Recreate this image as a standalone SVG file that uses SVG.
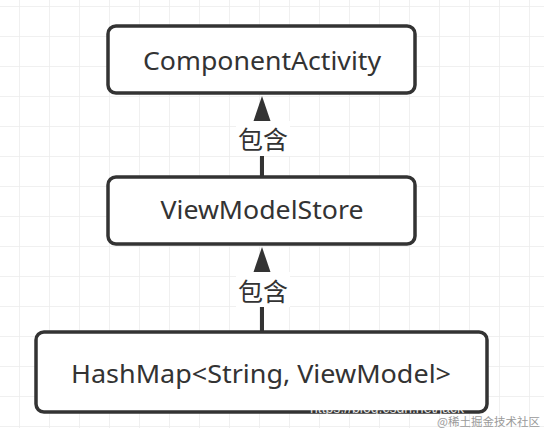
<svg xmlns="http://www.w3.org/2000/svg" width="544" height="428" viewBox="0 0 544 428">
  <defs>
    <pattern id="grid" x="19" y="6" width="30" height="30" patternUnits="userSpaceOnUse">
      <path d="M0 0H30M0 0V30" fill="none" stroke="#ececec" stroke-width="1.5"/>
    </pattern>
    <style>
      .node rect { fill: #ffffff; stroke: #333333; stroke-width: 3.5; }
      .node text { font-family: "Noto Sans", "Open Sans", sans-serif; font-size: 26px; fill: #333333; text-anchor: middle; }
      .edge line { stroke: #333333; stroke-width: 4; }
      .edge path { fill: #333333; }
      .label rect { fill: #ffffff; }
      .label text { font-family: "Noto Sans CJK SC", sans-serif; font-size: 25px; fill: #333333; text-anchor: middle; }
    </style>
  </defs>
  <rect width="544" height="428" fill="#ffffff"/>
  <rect width="544" height="428" fill="url(#grid)"/>

  <g id="connectors" class="edge">
    <line x1="262" y1="177" x2="262" y2="118"/>
    <path d="M262 96 L270.5 121 L253.5 121 Z"/>
    <g class="label">
      <rect x="236" y="121" width="54" height="35"/>
      <text x="263" y="149">包含</text>
    </g>
    <line x1="262" y1="332" x2="262" y2="270"/>
    <path d="M262 247 L270.5 272 L253.5 272 Z"/>
    <g class="label">
      <rect x="236" y="272" width="54" height="35"/>
      <text x="263" y="301">包含</text>
    </g>
  </g>

  <g id="node-componentactivity" class="node">
    <rect x="108" y="26" width="307" height="67" rx="8"/>
    <text x="262" y="70" textLength="238" lengthAdjust="spacingAndGlyphs">ComponentActivity</text>
  </g>
  <g id="node-viewmodelstore" class="node">
    <rect x="108" y="177" width="307" height="67" rx="8"/>
    <text x="262" y="219" textLength="203" lengthAdjust="spacingAndGlyphs">ViewModelStore</text>
  </g>
  <g id="node-hashmap" class="node">
    <rect x="36" y="332" width="451" height="80" rx="8"/>
    <text x="261" y="383" textLength="380" lengthAdjust="spacingAndGlyphs">HashMap&lt;String, ViewModel&gt;</text>
  </g>

  <g id="watermark">
    <text x="310" y="413" font-family="Liberation Sans, sans-serif" font-size="14" fill="#ffffff" fill-opacity="0.85">https://blog.csdn.net/jack</text>
    <text x="540" y="426" font-family="Noto Sans CJK SC, sans-serif" font-size="11.5" fill="#9a9a9a" text-anchor="end">@稀土掘金技术社区</text>
  </g>
</svg>
